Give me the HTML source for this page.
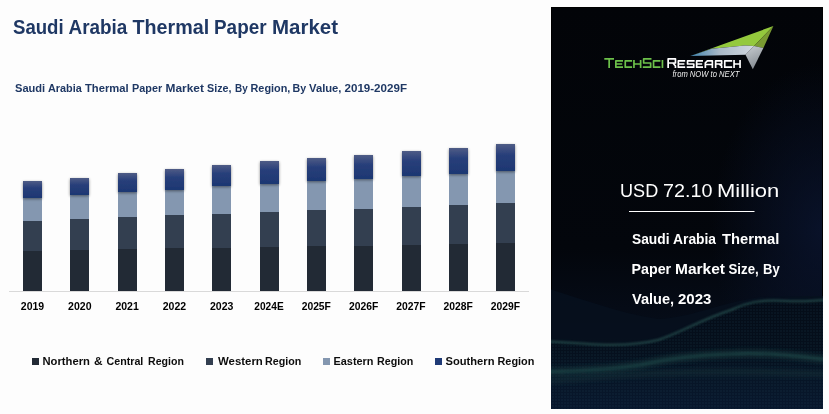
<!DOCTYPE html>
<html><head><meta charset="utf-8">
<style>
html,body{margin:0;padding:0;background:#fff;}
body{width:829px;height:414px;overflow:hidden;position:relative;font-family:"Liberation Sans",sans-serif;}
svg{position:absolute;left:0;top:0;display:block;will-change:transform;}
</style></head>
<body>
<svg width="829" height="414" viewBox="0 0 829 414" font-family="'Liberation Sans', sans-serif">
<defs>
<linearGradient id="sg" x1="0" y1="0" x2="0" y2="1">
<stop offset="0" stop-color="#4f5c86"/>
<stop offset="0.4" stop-color="#283f7a"/>
<stop offset="1" stop-color="#1d3772"/>
</linearGradient>
<filter id="sh" x="-30%" y="-30%" width="160%" height="160%">
<feGaussianBlur in="SourceAlpha" stdDeviation="1.4"/>
<feOffset dx="0" dy="1" result="b"/>
<feComponentTransfer><feFuncA type="linear" slope="0.45"/></feComponentTransfer>
<feMerge><feMergeNode/><feMergeNode in="SourceGraphic"/></feMerge>
</filter>
<linearGradient id="pg" x1="0" y1="0" x2="0" y2="1">
<stop offset="0" stop-color="#020408"/>
<stop offset="0.6" stop-color="#03060c"/>
<stop offset="0.75" stop-color="#050b16"/>
<stop offset="1" stop-color="#091629"/>
</linearGradient>
</defs>
<rect x="0" y="0" width="829" height="414" fill="#fdfdfd"/>
<text x="13.0" y="33.6" font-size="19.3" font-weight="bold" fill="#1f3864" textLength="50.66" lengthAdjust="spacingAndGlyphs">Saudi</text>
<text x="68.5" y="33.6" font-size="19.3" font-weight="bold" fill="#1f3864" textLength="58.82" lengthAdjust="spacingAndGlyphs">Arabia</text>
<text x="132.5" y="33.6" font-size="19.3" font-weight="bold" fill="#1f3864" textLength="76.65" lengthAdjust="spacingAndGlyphs">Thermal</text>
<text x="214.0" y="33.6" font-size="19.3" font-weight="bold" fill="#1f3864" textLength="52.57" lengthAdjust="spacingAndGlyphs">Paper</text>
<text x="272.0" y="33.6" font-size="19.3" font-weight="bold" fill="#1f3864" textLength="66.03" lengthAdjust="spacingAndGlyphs">Market</text>
<text x="15.0" y="92" font-size="10.4" font-weight="bold" fill="#1f3864" textLength="30.2" lengthAdjust="spacingAndGlyphs">Saudi</text>
<text x="48.0" y="92" font-size="10.4" font-weight="bold" fill="#1f3864" textLength="33.77" lengthAdjust="spacingAndGlyphs">Arabia</text>
<text x="85.0" y="92" font-size="10.4" font-weight="bold" fill="#1f3864" textLength="43.67" lengthAdjust="spacingAndGlyphs">Thermal</text>
<text x="132.0" y="92" font-size="10.4" font-weight="bold" fill="#1f3864" textLength="30.14" lengthAdjust="spacingAndGlyphs">Paper</text>
<text x="165.5" y="92" font-size="10.4" font-weight="bold" fill="#1f3864" textLength="38.38" lengthAdjust="spacingAndGlyphs">Market</text>
<text x="207.0" y="92" font-size="10.4" font-weight="bold" fill="#1f3864" textLength="24.52" lengthAdjust="spacingAndGlyphs">Size,</text>
<text x="235.0" y="92" font-size="10.4" font-weight="bold" fill="#1f3864" textLength="12.69" lengthAdjust="spacingAndGlyphs">By</text>
<text x="250.5" y="92" font-size="10.4" font-weight="bold" fill="#1f3864" textLength="39.85" lengthAdjust="spacingAndGlyphs">Region,</text>
<text x="292.5" y="92" font-size="10.4" font-weight="bold" fill="#1f3864" textLength="13.62" lengthAdjust="spacingAndGlyphs">By</text>
<text x="309.0" y="92" font-size="10.4" font-weight="bold" fill="#1f3864" textLength="32.51" lengthAdjust="spacingAndGlyphs">Value,</text>
<text x="344.5" y="92" font-size="10.4" font-weight="bold" fill="#1f3864" textLength="62.46" lengthAdjust="spacingAndGlyphs">2019-2029F</text>
<line x1="9" y1="291.5" x2="529" y2="291.5" stroke="#d9d9d9" stroke-width="1"/>
<rect x="23" y="251" width="19" height="40" fill="#222a35"/>
<rect x="23" y="221" width="19" height="30" fill="#333f50"/>
<rect x="23" y="198" width="19" height="23" fill="#8497b0"/>
<rect x="23" y="181" width="19" height="17" fill="url(#sg)" filter="url(#sh)"/>
<rect x="70" y="250" width="19" height="41" fill="#222a35"/>
<rect x="70" y="219" width="19" height="31" fill="#333f50"/>
<rect x="70" y="195" width="19" height="24" fill="#8497b0"/>
<rect x="70" y="178" width="19" height="17" fill="url(#sg)" filter="url(#sh)"/>
<rect x="118" y="249" width="19" height="42" fill="#222a35"/>
<rect x="118" y="217" width="19" height="32" fill="#333f50"/>
<rect x="118" y="192" width="19" height="25" fill="#8497b0"/>
<rect x="118" y="173" width="19" height="19" fill="url(#sg)" filter="url(#sh)"/>
<rect x="165" y="248" width="19" height="43" fill="#222a35"/>
<rect x="165" y="215" width="19" height="33" fill="#333f50"/>
<rect x="165" y="190" width="19" height="25" fill="#8497b0"/>
<rect x="165" y="169" width="19" height="21" fill="url(#sg)" filter="url(#sh)"/>
<rect x="212" y="248" width="19" height="43" fill="#222a35"/>
<rect x="212" y="214" width="19" height="34" fill="#333f50"/>
<rect x="212" y="186" width="19" height="28" fill="#8497b0"/>
<rect x="212" y="165" width="19" height="21" fill="url(#sg)" filter="url(#sh)"/>
<rect x="260" y="247" width="19" height="44" fill="#222a35"/>
<rect x="260" y="212" width="19" height="35" fill="#333f50"/>
<rect x="260" y="184" width="19" height="28" fill="#8497b0"/>
<rect x="260" y="161" width="19" height="23" fill="url(#sg)" filter="url(#sh)"/>
<rect x="307" y="246" width="19" height="45" fill="#222a35"/>
<rect x="307" y="210" width="19" height="36" fill="#333f50"/>
<rect x="307" y="181" width="19" height="29" fill="#8497b0"/>
<rect x="307" y="158" width="19" height="23" fill="url(#sg)" filter="url(#sh)"/>
<rect x="354" y="246" width="19" height="45" fill="#222a35"/>
<rect x="354" y="209" width="19" height="37" fill="#333f50"/>
<rect x="354" y="179" width="19" height="30" fill="#8497b0"/>
<rect x="354" y="155" width="19" height="24" fill="url(#sg)" filter="url(#sh)"/>
<rect x="402" y="245" width="19" height="46" fill="#222a35"/>
<rect x="402" y="207" width="19" height="38" fill="#333f50"/>
<rect x="402" y="176" width="19" height="31" fill="#8497b0"/>
<rect x="402" y="151" width="19" height="25" fill="url(#sg)" filter="url(#sh)"/>
<rect x="449" y="244" width="19" height="47" fill="#222a35"/>
<rect x="449" y="205" width="19" height="39" fill="#333f50"/>
<rect x="449" y="174" width="19" height="31" fill="#8497b0"/>
<rect x="449" y="148" width="19" height="26" fill="url(#sg)" filter="url(#sh)"/>
<rect x="496" y="243" width="19" height="48" fill="#222a35"/>
<rect x="496" y="203" width="19" height="40" fill="#333f50"/>
<rect x="496" y="171" width="19" height="32" fill="#8497b0"/>
<rect x="496" y="144" width="19" height="27" fill="url(#sg)" filter="url(#sh)"/>
<g font-size="11" font-weight="bold" fill="#000">
<text x="20.80" y="310" textLength="23.4" lengthAdjust="spacingAndGlyphs">2019</text>
<text x="68.10" y="310" textLength="23.4" lengthAdjust="spacingAndGlyphs">2020</text>
<text x="115.40" y="310" textLength="23.4" lengthAdjust="spacingAndGlyphs">2021</text>
<text x="162.70" y="310" textLength="23.4" lengthAdjust="spacingAndGlyphs">2022</text>
<text x="210.00" y="310" textLength="23.4" lengthAdjust="spacingAndGlyphs">2023</text>
<text x="254.35" y="310" textLength="29.3" lengthAdjust="spacingAndGlyphs">2024E</text>
<text x="301.65" y="310" textLength="29.3" lengthAdjust="spacingAndGlyphs">2025F</text>
<text x="348.95" y="310" textLength="29.3" lengthAdjust="spacingAndGlyphs">2026F</text>
<text x="396.25" y="310" textLength="29.3" lengthAdjust="spacingAndGlyphs">2027F</text>
<text x="443.55" y="310" textLength="29.3" lengthAdjust="spacingAndGlyphs">2028F</text>
<text x="490.85" y="310" textLength="29.3" lengthAdjust="spacingAndGlyphs">2029F</text>
</g>
<rect x="32" y="358" width="7" height="7" fill="#222a35"/>
<rect x="206" y="358" width="7" height="7" fill="#333f50"/>
<rect x="323" y="358" width="7" height="7" fill="#8497b0"/>
<rect x="435" y="358" width="7" height="7" fill="#1f3a76"/>
<text x="42.5" y="364.9" font-size="10.4" font-weight="bold" fill="#0d0d0d" textLength="47.45" lengthAdjust="spacingAndGlyphs">Northern</text>
<text x="94.0" y="364.9" font-size="10.4" font-weight="bold" fill="#0d0d0d" textLength="8.56" lengthAdjust="spacingAndGlyphs">&amp;</text>
<text x="106.5" y="364.9" font-size="10.4" font-weight="bold" fill="#0d0d0d" textLength="36.85" lengthAdjust="spacingAndGlyphs">Central</text>
<text x="148.0" y="364.9" font-size="10.4" font-weight="bold" fill="#0d0d0d" textLength="35.85" lengthAdjust="spacingAndGlyphs">Region</text>
<text x="218.0" y="364.9" font-size="10.4" font-weight="bold" fill="#0d0d0d" textLength="44.81" lengthAdjust="spacingAndGlyphs">Western</text>
<text x="265.0" y="364.9" font-size="10.4" font-weight="bold" fill="#0d0d0d" textLength="36.28" lengthAdjust="spacingAndGlyphs">Region</text>
<text x="333.5" y="364.9" font-size="10.4" font-weight="bold" fill="#0d0d0d" textLength="39.99" lengthAdjust="spacingAndGlyphs">Eastern</text>
<text x="377.0" y="364.9" font-size="10.4" font-weight="bold" fill="#0d0d0d" textLength="36.27" lengthAdjust="spacingAndGlyphs">Region</text>
<text x="445.5" y="364.9" font-size="10.4" font-weight="bold" fill="#0d0d0d" textLength="48.95" lengthAdjust="spacingAndGlyphs">Southern</text>
<text x="497.5" y="364.9" font-size="10.4" font-weight="bold" fill="#0d0d0d" textLength="36.89" lengthAdjust="spacingAndGlyphs">Region</text>
<!-- right panel -->
<rect x="551" y="7" width="272" height="402" fill="url(#pg)"/>
<defs><radialGradient id="rt" cx="823" cy="230" r="140" gradientUnits="userSpaceOnUse" gradientTransform="translate(823 230) scale(0.8 1.2) translate(-823 -230)">
<stop offset="0" stop-color="#0b1633" stop-opacity="0.75"/>
<stop offset="1" stop-color="#0b1633" stop-opacity="0"/>
</radialGradient></defs>
<rect x="551" y="7" width="272" height="402" fill="url(#rt)"/>
<rect x="551.5" y="7.5" width="271" height="401" fill="none" stroke="#000" stroke-width="1"/>
<!-- waves -->
<defs>
<filter id="wb" x="-20%" y="-100%" width="140%" height="300%"><feGaussianBlur stdDeviation="1.2"/></filter>
<filter id="wb3" x="-20%" y="-100%" width="140%" height="300%"><feGaussianBlur stdDeviation="2.5"/></filter>
<filter id="wb2" x="-20%" y="-50%" width="140%" height="200%"><feGaussianBlur stdDeviation="3"/></filter>
<filter id="wb4" x="-20%" y="-50%" width="140%" height="200%"><feGaussianBlur stdDeviation="6"/></filter>
<clipPath id="pc"><rect x="551" y="7" width="272" height="402"/></clipPath>
<pattern id="dots" x="0" y="0" width="3" height="3" patternUnits="userSpaceOnUse">
<rect x="0" y="0" width="2" height="2" fill="#2a5868"/>
</pattern>
<linearGradient id="wf" x1="0" y1="300" x2="0" y2="409" gradientUnits="userSpaceOnUse">
<stop offset="0" stop-color="#040c17"/>
<stop offset="0.45" stop-color="#050f1c"/>
<stop offset="0.7" stop-color="#071526"/>
<stop offset="1" stop-color="#08172d"/>
</linearGradient>
</defs>
<g clip-path="url(#pc)">
<path d="M540,286 C580,298 615,312 658,319 C690,318 720,303 760,297 C790,296 810,296 830,296 L830,414 L540,414 Z" fill="#06101e" opacity="0.8"/>
<path d="M545,341 C590,344 625,348 658,340 C680,333 700,320 731,310 C745,303 760,299 787,301 C805,302 815,300 830,300 L830,414 L545,414 Z" fill="url(#wf)"/>
<path d="M545,341 C590,344 625,348 658,340 C680,333 700,320 731,310 C745,303 760,299 787,301 C805,302 815,300 830,300 L830,414 L545,414 Z" fill="url(#dots)" opacity="0.11"/>
<path d="M545,372 C590,371 615,369 640,365 C670,358 700,355 730,354 C760,352 790,355 830,360" fill="none" stroke="#1d4444" stroke-width="6" opacity="0.7" filter="url(#wb3)"/>
<path d="M545,381 C590,378 620,374 660,373 C700,372 760,371 830,374" fill="none" stroke="#1a3c40" stroke-width="5" opacity="0.45" filter="url(#wb3)"/>
<path d="M545,341 C590,344 625,348 658,340 C680,333 700,320 731,310 C745,303 760,299 787,301 C805,302 815,300 830,300" fill="none" stroke="#2d5e5a" stroke-width="2" opacity="0.7" filter="url(#wb)"/>
<path d="M545,372 C590,371 615,369 640,365 C670,358 700,355 730,354 C760,352 790,355 830,360" fill="none" stroke="#2f605c" stroke-width="1.2" opacity="0.5" filter="url(#wb)"/>
</g>
<!-- logo -->
<defs>
<linearGradient id="band" x1="690" y1="0" x2="755" y2="0" gradientUnits="userSpaceOnUse">
<stop offset="0" stop-color="#3f84b0"/>
<stop offset="0.45" stop-color="#a9b9c8"/>
<stop offset="1" stop-color="#d3d9e0"/>
</linearGradient>
<linearGradient id="wing" x1="750" y1="46" x2="760" y2="68" gradientUnits="userSpaceOnUse">
<stop offset="0" stop-color="#c4c9ce"/>
<stop offset="1" stop-color="#80878e"/>
</linearGradient>
</defs>
<polygon points="690.3,55.9 773.4,26 754.1,46 744.8,45.4 711.6,48.8" fill="#94c93d"/>
<polygon points="754.1,46 773.4,26 763.4,47.9" fill="#7a9b32"/>
<polygon points="690.3,55.9 711.6,48.8 744.8,45.4 754.1,46 745.5,54.8" fill="url(#band)"/>
<polygon points="754.1,46 763.4,47.9 752.8,69.2 745.5,54.8" fill="url(#wing)"/>
<g fill="none" stroke-width="1.7" stroke-linejoin="round" stroke-linecap="butt">
<path d="M604.30,58.85H614.00M609.15,58.85V68.00 M623.00,60.85H615.85V67.15H623.00M615.85,64.00H622.20 M632.10,60.85H625.25V67.15H632.10 M633.95,60.00V68.00M640.65,60.00V68.00M633.95,64.00H640.65 M651.50,58.85H643.65V63.00H650.65V67.15H642.80 M660.40,60.85H653.55V67.15H660.40 M662.45,60.00V68.00" stroke="#6cc04a"/>
<path d="M668.15,68.00V58.85H675.45V63.00H668.15M672.95,63.00L675.45,65.95V68.00 M685.20,60.85H678.35V67.15H685.20M678.35,64.00H684.40 M694.60,60.85H687.55V64.00H693.75V67.15H686.70 M703.00,60.85H696.65V67.15H703.00M696.65,64.00H702.20 M705.35,68.00V62.85L707.35,60.85H712.35V68.00M705.35,64.50H712.35 M715.65,68.00V60.85H721.65V64.00H715.65M719.15,64.00L721.65,65.95V68.00 M732.20,60.85H724.75V67.15H732.20 M734.05,60.00V68.00M740.05,60.00V68.00M734.05,64.00H740.05" stroke="#ffffff"/>
</g>
<text x="672.5" y="76.6" font-size="8.6" font-style="italic" fill="#eeeeee" textLength="66.93" lengthAdjust="spacingAndGlyphs">from NOW to NEXT</text>
<text x="620.0" y="196.8" font-size="19" font-weight="normal" fill="#fff" textLength="38.21" lengthAdjust="spacingAndGlyphs">USD</text>
<text x="663.0" y="196.8" font-size="19" font-weight="normal" fill="#fff" textLength="49.42" lengthAdjust="spacingAndGlyphs">72.10</text>
<text x="717.0" y="196.8" font-size="19" font-weight="normal" fill="#fff" textLength="62.32" lengthAdjust="spacingAndGlyphs">Million</text>
<line x1="629" y1="211.5" x2="754.5" y2="211.5" stroke="#fff" stroke-width="1"/>
<text x="632.0" y="243.8" font-size="15" font-weight="bold" fill="#fff" textLength="37.54" lengthAdjust="spacingAndGlyphs">Saudi</text>
<text x="673.0" y="243.8" font-size="15" font-weight="bold" fill="#fff" textLength="43.07" lengthAdjust="spacingAndGlyphs">Arabia</text>
<text x="722.0" y="243.8" font-size="15" font-weight="bold" fill="#fff" textLength="57.34" lengthAdjust="spacingAndGlyphs">Thermal</text>
<text x="631.5" y="273.8" font-size="15" font-weight="bold" fill="#fff" textLength="39.65" lengthAdjust="spacingAndGlyphs">Paper</text>
<text x="675.0" y="273.8" font-size="15" font-weight="bold" fill="#fff" textLength="50.04" lengthAdjust="spacingAndGlyphs">Market</text>
<text x="728.5" y="273.8" font-size="15" font-weight="bold" fill="#fff" textLength="30.17" lengthAdjust="spacingAndGlyphs">Size,</text>
<text x="763.0" y="273.8" font-size="15" font-weight="bold" fill="#fff" textLength="16.63" lengthAdjust="spacingAndGlyphs">By</text>
<text x="632.0" y="303.8" font-size="15" font-weight="bold" fill="#fff" textLength="42.16" lengthAdjust="spacingAndGlyphs">Value,</text>
<text x="678.0" y="303.8" font-size="15" font-weight="bold" fill="#fff" textLength="33.38" lengthAdjust="spacingAndGlyphs">2023</text>
</svg>
</body></html>
